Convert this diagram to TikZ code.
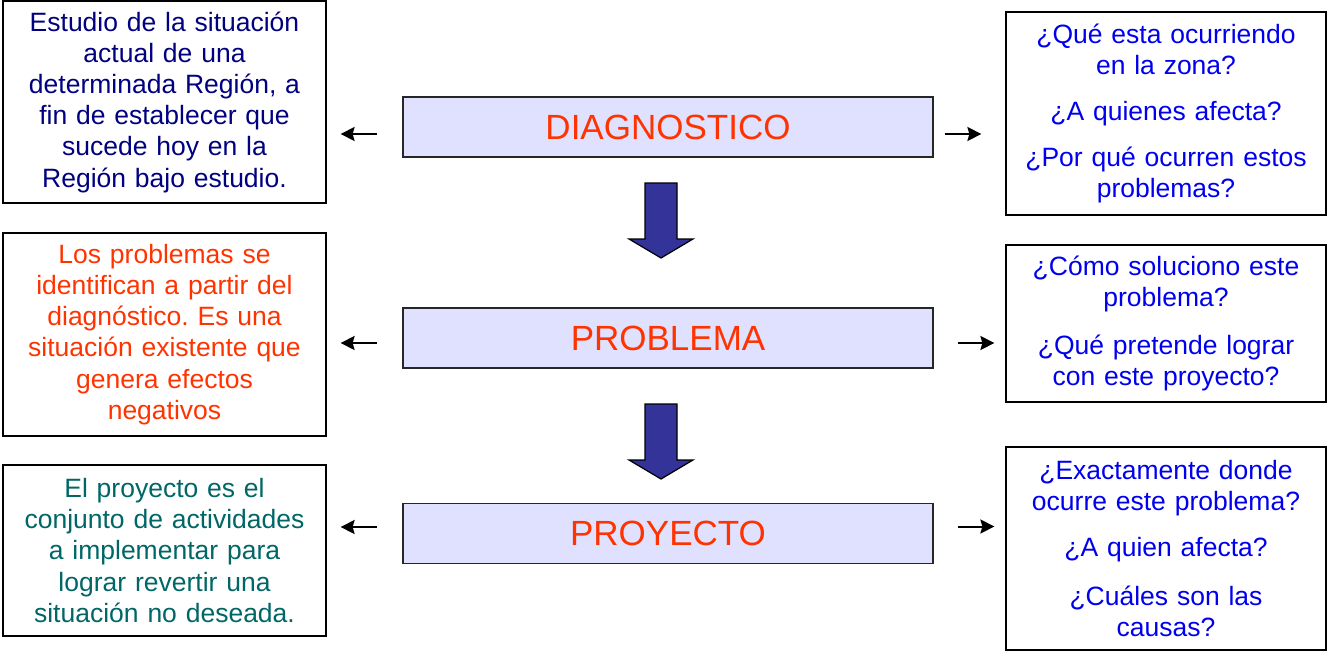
\documentclass[tikz,border=0pt]{standalone}
\usepackage{fontspec}
\setmainfont{Liberation Sans}
\usetikzlibrary{arrows.meta}
\definecolor{navytext}{HTML}{000080}
\definecolor{redtext}{HTML}{FF3300}
\definecolor{tealtext}{HTML}{006666}
\definecolor{bluetext}{HTML}{0000EE}
\definecolor{stagefill}{HTML}{E0E0FF}
\definecolor{arrowfill}{HTML}{333399}
\frenchspacing
\begin{document}
\begin{tikzpicture}[x=1pt,y=-1pt]
	\tikzstyle{info} = [draw=black, line width=1.2pt, inner sep=0, align=center, text width=316pt, minimum width=323pt, font=\fontsize{26.5}{31.2}\selectfont]
	\tikzstyle{ask} = [info, text=bluetext, minimum width=320pt]
	\tikzstyle{stage} = [draw=black!85, line width=1.3pt, fill=stagefill, text=redtext, minimum width=530pt, minimum height=60pt, inner sep=0, font=\fontsize{35}{40}\selectfont]
	\tikzstyle{pointer} = [-{Stealth[length=14pt,width=14pt,inset=2pt]}, line width=2pt]
	\tikzstyle{bigarrow} = [draw=black, line width=1.2pt, fill=arrowfill, line join=miter]
	
	\useasboundingbox (0,0) rectangle (1331,653);
	
	\node [stage] (diag) at (668,127) {DIAGNOSTICO};
	\node [stage] (prob) at (668,338) {PROBLEMA};
	\node [stage] (proy) at (668,533.5) {PROYECTO};
	
	\node [info, minimum height=202pt, text=navytext] (diagtext) at (164.5,102) {Estudio de la situación\\actual de una\\determinada Región, a\\fin de establecer que\\sucede hoy en la\\Región bajo estudio.};
	\node [info, minimum height=203pt, text=redtext] (probtext) at (164.5,334.5) {Los problemas se\\identifican a partir del\\diagnóstico. Es una\\situación existente que\\genera efectos\\negativos};
	\node [info, minimum height=171pt, text=tealtext] (proytext) at (164.5,550.5) {El proyecto es el\\conjunto de actividades\\a implementar para\\lograr revertir una\\situación no deseada.};
	
	\node [ask, minimum height=203pt] (diagask) at (1166,113.5) {¿Qué esta ocurriendo\\en la zona?\\[15pt]¿A quienes afecta?\\[15pt]¿Por qué ocurren estos\\problemas?};
	\node [ask, minimum height=157pt] (probask) at (1166,323.5) {¿Cómo soluciono este\\problema?\\[17pt]¿Qué pretende lograr\\con este proyecto?};
	\node [ask, minimum height=203pt] (proyask) at (1166,548.5) {¿Exactamente donde\\ocurre este problema?\\[15pt]¿A quien afecta?\\[17pt]¿Cuáles son las\\causas?};
	
	\draw [pointer, shorten <=25pt, shorten >=14pt] ([yshift=-7pt]diag.west) -- ([yshift=-7pt]diag.west -| diagtext.east);
	\draw [pointer, shorten <=25pt, shorten >=14pt] ([yshift=-5pt]prob.west) -- ([yshift=-5pt]prob.west -| probtext.east);
	\draw [pointer, shorten <=25pt, shorten >=14pt] ([yshift=6.5pt]proy.west) -- ([yshift=6.5pt]proy.west -| proytext.east);
	\draw [pointer, shorten <=11pt, shorten >=24pt] ([yshift=-7pt]diag.east) -- ([yshift=-7pt]diag.east -| diagask.west);
	\draw [pointer, shorten <=24pt, shorten >=11pt] ([yshift=-5pt]prob.east) -- ([yshift=-5pt]prob.east -| probask.west);
	\draw [pointer, shorten <=24pt, shorten >=11pt] ([yshift=7pt]proy.east) -- ([yshift=7pt]proy.east -| proyask.west);
	
	\foreach \y in {183,404}
	{
		\draw [bigarrow] (645,\y) -- (677,\y) -- (677,\y+56) -- (693,\y+56) -- (661,\y+75) -- (629,\y+56) -- (645,\y+56) -- cycle;
	}
\end{tikzpicture}
\end{document}
